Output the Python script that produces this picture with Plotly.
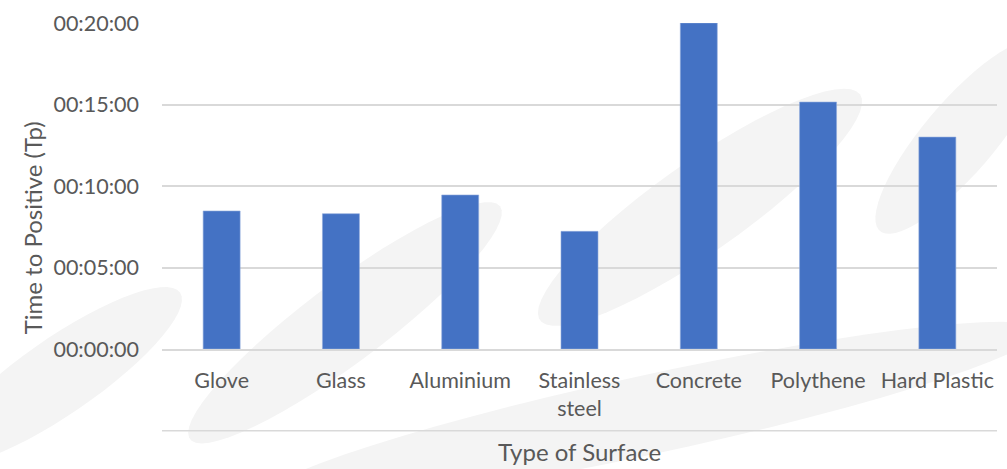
import numpy as np
import plotly.graph_objects as go

# Time to positive (Tp) per surface type, as mm:ss
surfaces = ["Glove", "Glass", "Aluminium", "Stainless steel", "Concrete", "Polythene", "Hard Plastic"]
surface_labels = ["Glove", "Glass", "Aluminium", "Stainless<br>steel", "Concrete", "Polythene", "Hard Plastic"]
time_to_positive = ["08:28", "08:18", "09:27", "07:13", "20:00", "15:09", "13:00"]
tick_seconds = [0, 300, 600, 900, 1200]


def to_seconds(mmss):
    m, s = mmss.split(":")
    return int(m) * 60 + int(s)


def hms(sec):
    return "%02d:%02d:%02d" % (sec // 3600, (sec % 3600) // 60, sec % 60)


seconds = [to_seconds(t) for t in time_to_positive]

FONT = "Lato"
GREY = "#595959"
GRID = "#d9d9d9"
W, H = 1007, 469
ML, MR, MT, MB = 162, 10, 20, 120
PW, PH = W - ML - MR, H - MT - MB

fig = go.Figure(
    go.Bar(
        x=surfaces,
        y=seconds,
        marker=dict(color="#4472c4", line=dict(color="#8eaadb", width=0.6)),
        hovertext=time_to_positive,
    )
)

fig.update_layout(
    width=W,
    height=H,
    margin=dict(l=ML, r=MR, t=MT, b=MB),
    paper_bgcolor="white",
    plot_bgcolor="rgba(0,0,0,0)",
    bargap=0.69,
    showlegend=False,
    font=dict(family=FONT, size=21.5, color=GREY),
)

fig.update_xaxes(
    tickmode="array",
    tickvals=surfaces,
    ticktext=surface_labels,
    showline=True,
    linecolor=GRID,
    linewidth=1.5,
    ticks="",
    ticklabelstandoff=11,
    tickfont=dict(family=FONT, size=21.5, color=GREY),
)

fig.update_yaxes(
    range=[0, 1200],
    tickmode="array",
    tickvals=tick_seconds,
    ticktext=[hms(s) for s in tick_seconds],
    showgrid=True,
    gridcolor=GRID,
    gridwidth=1.5,
    zeroline=False,
    ticks="",
    ticklabelstandoff=22,
    tickfont=dict(family=FONT, size=21.5, color=GREY),
)


# faint decorative swooshes in the page background
def swoosh(x0, y0, x1, y1, half_width):
    cx, cy = (x0 + x1) / 2, (y0 + y1) / 2
    a = np.hypot(x1 - x0, y1 - y0) / 2
    ang = np.arctan2(y1 - y0, x1 - x0)
    t = np.linspace(0, 2 * np.pi, 60)
    ex = a * np.cos(t)
    ey = half_width * np.sin(t)
    px = cx + ex * np.cos(ang) - ey * np.sin(ang)
    py = cy + ex * np.sin(ang) + ey * np.cos(ang)
    fx = (px - ML) / PW
    fy = (H - MB - py) / PH
    pts = " L ".join("%.4f,%.4f" % (a_, b_) for a_, b_ in zip(fx, fy))
    return "M " + pts + " Z"


for seg in [
    (-60, 460, 180, 292, 38),
    (190, 440, 500, 205, 40),
    (540, 320, 860, 92, 45),
    (880, 230, 1040, 40, 36),
    (260, 500, 1040, 330, 40),
]:
    fig.add_shape(
        type="path", xref="paper", yref="paper", path=swoosh(*seg),
        fillcolor="#f4f4f4", line=dict(width=0), layer="below",
    )

# separator line between the category labels and the axis title
fig.add_shape(
    type="line", xref="paper", yref="paper",
    x0=0, x1=1, y0=-0.251, y1=-0.251,
    line=dict(color=GRID, width=1.5),
)

fig.add_annotation(
    text="Type of Surface", xref="paper", yref="paper",
    x=0.5, y=-0.314, xanchor="center", yanchor="middle",
    showarrow=False, font=dict(family=FONT, size=24, color=GREY),
)
fig.add_annotation(
    text="Time to Positive (Tp)", xref="paper", yref="paper",
    x=-0.155, y=0.372, xanchor="center", yanchor="middle", textangle=-90,
    showarrow=False, font=dict(family=FONT, size=24, color=GREY),
)

fig.write_html("out.html")
